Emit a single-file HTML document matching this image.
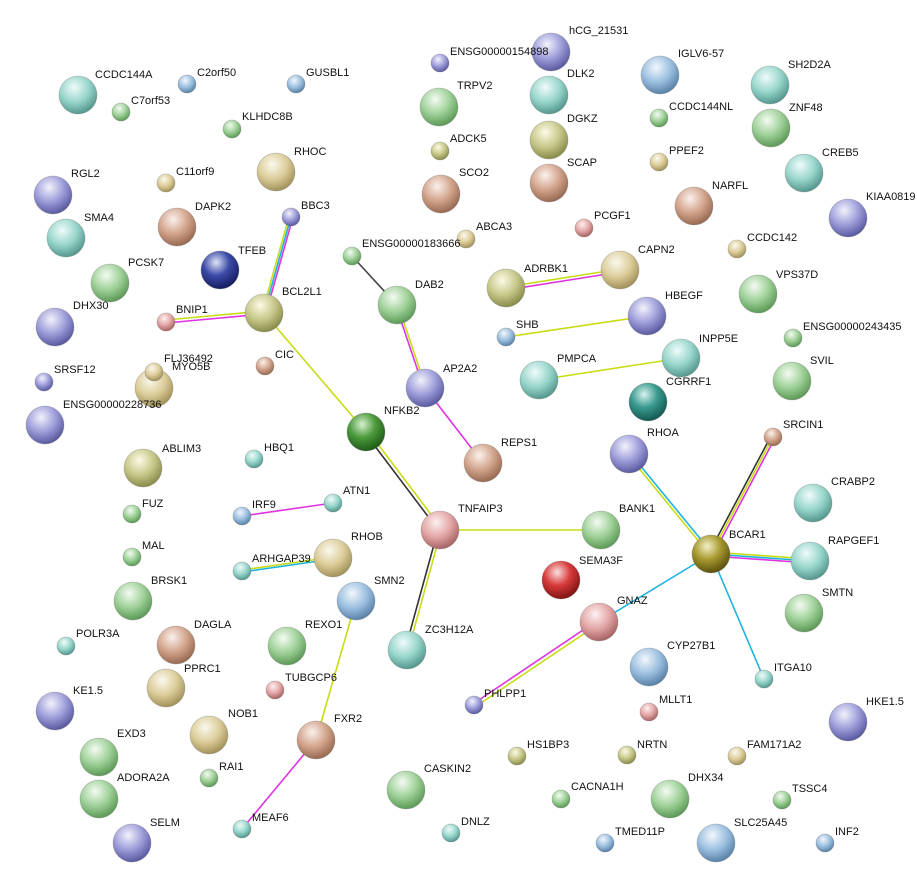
<!DOCTYPE html>
<html><head><meta charset="utf-8"><style>
html,body{margin:0;padding:0;background:#fff;}
svg{display:block;}
text{font-family:"Liberation Sans",Arial,sans-serif;font-size:11px;fill:#111;}
</style></head><body>
<svg width="917" height="889" viewBox="0 0 917 889" xmlns="http://www.w3.org/2000/svg">
<defs>
<radialGradient id="g" cx="40%" cy="30%" r="70%"><stop offset="0" stop-color="#f4fbf2"/><stop offset="0.55" stop-color="#9fd199"/><stop offset="1" stop-color="#5d9a57"/></radialGradient>
<radialGradient id="b" cx="40%" cy="30%" r="70%"><stop offset="0" stop-color="#f2f7fc"/><stop offset="0.55" stop-color="#9cc0e0"/><stop offset="1" stop-color="#5a82a8"/></radialGradient>
<radialGradient id="p" cx="40%" cy="30%" r="70%"><stop offset="0" stop-color="#f2f2fc"/><stop offset="0.55" stop-color="#9d9dda"/><stop offset="1" stop-color="#5a5aa0"/></radialGradient>
<radialGradient id="t" cx="40%" cy="30%" r="70%"><stop offset="0" stop-color="#fbf9ee"/><stop offset="0.55" stop-color="#dccd9a"/><stop offset="1" stop-color="#a3925a"/></radialGradient>
<radialGradient id="c" cx="40%" cy="30%" r="70%"><stop offset="0" stop-color="#f0fbf9"/><stop offset="0.55" stop-color="#98d6cc"/><stop offset="1" stop-color="#55988e"/></radialGradient>
<radialGradient id="r" cx="40%" cy="30%" r="70%"><stop offset="0" stop-color="#fbf1ec"/><stop offset="0.55" stop-color="#d2a48c"/><stop offset="1" stop-color="#986a52"/></radialGradient>
<radialGradient id="k" cx="40%" cy="30%" r="70%"><stop offset="0" stop-color="#fdf0f0"/><stop offset="0.55" stop-color="#e3a6a6"/><stop offset="1" stop-color="#a86464"/></radialGradient>
<radialGradient id="o" cx="40%" cy="30%" r="70%"><stop offset="0" stop-color="#fbfbe6"/><stop offset="0.55" stop-color="#c7c88a"/><stop offset="1" stop-color="#8a8c4a"/></radialGradient>
<radialGradient id="dg" cx="40%" cy="30%" r="70%"><stop offset="0" stop-color="#d8f0d0"/><stop offset="0.5" stop-color="#4c9a3c"/><stop offset="1" stop-color="#1f5c18"/></radialGradient>
<radialGradient id="db" cx="40%" cy="30%" r="70%"><stop offset="0" stop-color="#dfe4f8"/><stop offset="0.5" stop-color="#3c4aa8"/><stop offset="1" stop-color="#161e60"/></radialGradient>
<radialGradient id="dt" cx="40%" cy="30%" r="70%"><stop offset="0" stop-color="#d8f2ee"/><stop offset="0.5" stop-color="#3a9a90"/><stop offset="1" stop-color="#145a52"/></radialGradient>
<radialGradient id="rd" cx="40%" cy="30%" r="70%"><stop offset="0" stop-color="#fbdede"/><stop offset="0.5" stop-color="#d83a3a"/><stop offset="1" stop-color="#801414"/></radialGradient>
<radialGradient id="ol" cx="40%" cy="30%" r="70%"><stop offset="0" stop-color="#f4f0c8"/><stop offset="0.5" stop-color="#a89a30"/><stop offset="1" stop-color="#5c520e"/></radialGradient>
</defs>

<!-- edges -->
<g fill="none" stroke-width="1.6">
<!-- BBC3-BCL2L1 -->
<line x1="289" y1="217" x2="262" y2="313" stroke="#c8dc14"/>
<line x1="291" y1="217" x2="264" y2="313" stroke="#1eb4e0"/>
<line x1="293" y1="217" x2="266" y2="313" stroke="#e033e0"/>
<!-- BNIP1-BCL2L1 -->
<line x1="166" y1="320" x2="264" y2="311" stroke="#c8dc14"/>
<line x1="166" y1="323" x2="264" y2="314" stroke="#e033e0"/>
<line x1="264" y1="313" x2="366" y2="432" stroke="#c8dc14"/>
<!-- NFKB2-TNFAIP3 -->
<line x1="365" y1="433" x2="439" y2="531" stroke="#333"/>
<line x1="368" y1="431" x2="442" y2="529" stroke="#c8dc14"/>
<line x1="352" y1="256" x2="397" y2="305" stroke="#444"/>
<!-- DAB2-AP2A2 -->
<line x1="396" y1="306" x2="424" y2="389" stroke="#e033e0"/>
<line x1="398" y1="305" x2="426" y2="388" stroke="#c8dc14"/>
<line x1="425" y1="388" x2="483" y2="463" stroke="#e033e0"/>
<!-- ADRBK1-CAPN2 -->
<line x1="506" y1="287" x2="620" y2="269" stroke="#c8dc14"/>
<line x1="506" y1="290" x2="620" y2="272" stroke="#e033e0"/>
<line x1="506" y1="337" x2="647" y2="316" stroke="#c8dc14"/>
<line x1="539" y1="380" x2="681" y2="358" stroke="#c8dc14"/>
<line x1="440" y1="530" x2="601" y2="530" stroke="#c8dc14"/>
<!-- TNFAIP3-ZC3H12A -->
<line x1="438" y1="530" x2="405" y2="650" stroke="#333"/>
<line x1="441" y1="531" x2="408" y2="651" stroke="#c8dc14"/>
<!-- RHOA-BCAR1 -->
<line x1="628" y1="455" x2="710" y2="555" stroke="#c8dc14"/>
<line x1="630" y1="453" x2="712" y2="553" stroke="#1eb4e0"/>
<!-- SRCIN1-BCAR1 -->
<line x1="771" y1="436" x2="709" y2="553" stroke="#333"/>
<line x1="773" y1="437" x2="711" y2="554" stroke="#c8dc14"/>
<line x1="775" y1="438" x2="713" y2="555" stroke="#e033e0"/>
<!-- BCAR1-RAPGEF1 -->
<line x1="711" y1="552" x2="810" y2="559" stroke="#c8dc14"/>
<line x1="711" y1="554" x2="810" y2="561" stroke="#1eb4e0"/>
<line x1="711" y1="556" x2="810" y2="563" stroke="#e033e0"/>
<line x1="711" y1="554" x2="764" y2="679" stroke="#1eb4e0"/>
<line x1="711" y1="554" x2="599" y2="622" stroke="#1eb4e0"/>
<!-- GNAZ-PHLPP1 -->
<line x1="598" y1="620" x2="473" y2="704" stroke="#e033e0"/>
<line x1="600" y1="623" x2="475" y2="707" stroke="#c8dc14"/>
<line x1="242" y1="516" x2="333" y2="503" stroke="#e033e0"/>
<!-- ARHGAP39-RHOB -->
<line x1="242" y1="570" x2="333" y2="557" stroke="#c8dc14"/>
<line x1="242" y1="572" x2="333" y2="559" stroke="#1eb4e0"/>
<line x1="356" y1="601" x2="316" y2="740" stroke="#c8dc14"/>
<line x1="316" y1="740" x2="242" y2="829" stroke="#e033e0"/>
</g>

<!-- big nodes -->
<g stroke="#666" stroke-opacity="0.35" stroke-width="0.8">
<circle cx="78" cy="95" r="19" fill="url(#c)"/>
<circle cx="53" cy="195" r="19" fill="url(#p)"/>
<circle cx="66" cy="238" r="19" fill="url(#c)"/>
<circle cx="110" cy="283" r="19" fill="url(#g)"/>
<circle cx="55" cy="327" r="19" fill="url(#p)"/>
<circle cx="45" cy="425" r="19" fill="url(#p)"/>
<circle cx="154" cy="388" r="19" fill="url(#t)"/>
<circle cx="143" cy="468" r="19" fill="url(#o)"/>
<circle cx="133" cy="601" r="19" fill="url(#g)"/>
<circle cx="176" cy="645" r="19" fill="url(#r)"/>
<circle cx="166" cy="688" r="19" fill="url(#t)"/>
<circle cx="55" cy="711" r="19" fill="url(#p)"/>
<circle cx="99" cy="757" r="19" fill="url(#g)"/>
<circle cx="99" cy="799" r="19" fill="url(#g)"/>
<circle cx="132" cy="843" r="19" fill="url(#p)"/>
<circle cx="209" cy="735" r="19" fill="url(#t)"/>
<circle cx="276" cy="172" r="19" fill="url(#t)"/>
<circle cx="177" cy="227" r="19" fill="url(#r)"/>
<circle cx="220" cy="270" r="19" fill="url(#db)"/>
<circle cx="264" cy="313" r="19" fill="url(#o)"/>
<circle cx="366" cy="432" r="19" fill="url(#dg)"/>
<circle cx="333" cy="558" r="19" fill="url(#t)"/>
<circle cx="356" cy="601" r="19" fill="url(#b)"/>
<circle cx="287" cy="646" r="19" fill="url(#g)"/>
<circle cx="316" cy="740" r="19" fill="url(#r)"/>
<circle cx="407" cy="650" r="19" fill="url(#c)"/>
<circle cx="440" cy="530" r="19" fill="url(#k)"/>
<circle cx="406" cy="790" r="19" fill="url(#g)"/>
<circle cx="397" cy="305" r="19" fill="url(#g)"/>
<circle cx="425" cy="388" r="19" fill="url(#p)"/>
<circle cx="483" cy="463" r="19" fill="url(#r)"/>
<circle cx="439" cy="107" r="19" fill="url(#g)"/>
<circle cx="441" cy="194" r="19" fill="url(#r)"/>
<circle cx="551" cy="52" r="19" fill="url(#p)"/>
<circle cx="549" cy="95" r="19" fill="url(#c)"/>
<circle cx="549" cy="140" r="19" fill="url(#o)"/>
<circle cx="549" cy="183" r="19" fill="url(#r)"/>
<circle cx="506" cy="288" r="19" fill="url(#o)"/>
<circle cx="620" cy="270" r="19" fill="url(#t)"/>
<circle cx="647" cy="316" r="19" fill="url(#p)"/>
<circle cx="539" cy="380" r="19" fill="url(#c)"/>
<circle cx="681" cy="358" r="19" fill="url(#c)"/>
<circle cx="648" cy="402" r="19" fill="url(#dt)"/>
<circle cx="601" cy="530" r="19" fill="url(#g)"/>
<circle cx="561" cy="580" r="19" fill="url(#rd)"/>
<circle cx="599" cy="622" r="19" fill="url(#k)"/>
<circle cx="629" cy="454" r="19" fill="url(#p)"/>
<circle cx="711" cy="554" r="19" fill="url(#ol)"/>
<circle cx="810" cy="561" r="19" fill="url(#c)"/>
<circle cx="804" cy="613" r="19" fill="url(#g)"/>
<circle cx="813" cy="503" r="19" fill="url(#c)"/>
<circle cx="649" cy="667" r="19" fill="url(#b)"/>
<circle cx="670" cy="799" r="19" fill="url(#g)"/>
<circle cx="716" cy="843" r="19" fill="url(#b)"/>
<circle cx="848" cy="722" r="19" fill="url(#p)"/>
<circle cx="660" cy="75" r="19" fill="url(#b)"/>
<circle cx="770" cy="85" r="19" fill="url(#c)"/>
<circle cx="771" cy="128" r="19" fill="url(#g)"/>
<circle cx="804" cy="173" r="19" fill="url(#c)"/>
<circle cx="848" cy="218" r="19" fill="url(#p)"/>
<circle cx="694" cy="206" r="19" fill="url(#r)"/>
<circle cx="758" cy="294" r="19" fill="url(#g)"/>
<circle cx="792" cy="381" r="19" fill="url(#g)"/>
</g>

<!-- small nodes -->
<g stroke="#666" stroke-opacity="0.35" stroke-width="0.8">
<circle cx="187" cy="84" r="9" fill="url(#b)"/>
<circle cx="296" cy="84" r="9" fill="url(#b)"/>
<circle cx="121" cy="112" r="9" fill="url(#g)"/>
<circle cx="232" cy="129" r="9" fill="url(#g)"/>
<circle cx="166" cy="183" r="9" fill="url(#t)"/>
<circle cx="291" cy="217" r="9" fill="url(#p)"/>
<circle cx="166" cy="322" r="9" fill="url(#k)"/>
<circle cx="154" cy="372" r="9" fill="url(#t)"/>
<circle cx="44" cy="382" r="9" fill="url(#p)"/>
<circle cx="265" cy="366" r="9" fill="url(#r)"/>
<circle cx="254" cy="459" r="9" fill="url(#c)"/>
<circle cx="132" cy="514" r="9" fill="url(#g)"/>
<circle cx="242" cy="516" r="9" fill="url(#b)"/>
<circle cx="333" cy="503" r="9" fill="url(#c)"/>
<circle cx="132" cy="557" r="9" fill="url(#g)"/>
<circle cx="242" cy="571" r="9" fill="url(#c)"/>
<circle cx="66" cy="646" r="9" fill="url(#c)"/>
<circle cx="275" cy="690" r="9" fill="url(#k)"/>
<circle cx="209" cy="778" r="9" fill="url(#g)"/>
<circle cx="242" cy="829" r="9" fill="url(#c)"/>
<circle cx="352" cy="256" r="9" fill="url(#g)"/>
<circle cx="440" cy="63" r="9" fill="url(#p)"/>
<circle cx="440" cy="151" r="9" fill="url(#o)"/>
<circle cx="466" cy="239" r="9" fill="url(#t)"/>
<circle cx="584" cy="228" r="9" fill="url(#k)"/>
<circle cx="659" cy="118" r="9" fill="url(#g)"/>
<circle cx="659" cy="162" r="9" fill="url(#t)"/>
<circle cx="737" cy="249" r="9" fill="url(#t)"/>
<circle cx="506" cy="337" r="9" fill="url(#b)"/>
<circle cx="793" cy="338" r="9" fill="url(#g)"/>
<circle cx="773" cy="437" r="9" fill="url(#r)"/>
<circle cx="764" cy="679" r="9" fill="url(#c)"/>
<circle cx="474" cy="705" r="9" fill="url(#p)"/>
<circle cx="649" cy="712" r="9" fill="url(#k)"/>
<circle cx="517" cy="756" r="9" fill="url(#o)"/>
<circle cx="627" cy="755" r="9" fill="url(#o)"/>
<circle cx="737" cy="756" r="9" fill="url(#t)"/>
<circle cx="782" cy="800" r="9" fill="url(#g)"/>
<circle cx="561" cy="799" r="9" fill="url(#g)"/>
<circle cx="451" cy="833" r="9" fill="url(#c)"/>
<circle cx="605" cy="843" r="9" fill="url(#b)"/>
<circle cx="825" cy="843" r="9" fill="url(#b)"/>
</g>

<!-- labels -->
<g>
<text x="95" y="78">CCDC144A</text>
<text x="71" y="177">RGL2</text>
<text x="84" y="221">SMA4</text>
<text x="128" y="266">PCSK7</text>
<text x="73" y="309">DHX30</text>
<text x="63" y="408">ENSG00000228736</text>
<text x="172" y="370">MYO5B</text>
<text x="162" y="452">ABLIM3</text>
<text x="151" y="584">BRSK1</text>
<text x="194" y="628">DAGLA</text>
<text x="184" y="672">PPRC1</text>
<text x="73" y="694">KE1.5</text>
<text x="117" y="737">EXD3</text>
<text x="117" y="781">ADORA2A</text>
<text x="150" y="826">SELM</text>
<text x="228" y="717">NOB1</text>
<text x="294" y="155">RHOC</text>
<text x="195" y="210">DAPK2</text>
<text x="238" y="254">TFEB</text>
<text x="282" y="295">BCL2L1</text>
<text x="384" y="414">NFKB2</text>
<text x="351" y="540">RHOB</text>
<text x="374" y="584">SMN2</text>
<text x="305" y="628">REXO1</text>
<text x="334" y="722">FXR2</text>
<text x="425" y="633">ZC3H12A</text>
<text x="458" y="512">TNFAIP3</text>
<text x="424" y="772">CASKIN2</text>
<text x="415" y="288">DAB2</text>
<text x="443" y="372">AP2A2</text>
<text x="501" y="446">REPS1</text>
<text x="457" y="89">TRPV2</text>
<text x="459" y="176">SCO2</text>
<text x="569" y="34">hCG_21531</text>
<text x="567" y="77">DLK2</text>
<text x="567" y="122">DGKZ</text>
<text x="567" y="166">SCAP</text>
<text x="524" y="272">ADRBK1</text>
<text x="638" y="253">CAPN2</text>
<text x="665" y="299">HBEGF</text>
<text x="557" y="362">PMPCA</text>
<text x="699" y="342">INPP5E</text>
<text x="666" y="385">CGRRF1</text>
<text x="619" y="512">BANK1</text>
<text x="579" y="564">SEMA3F</text>
<text x="617" y="604">GNAZ</text>
<text x="647" y="436">RHOA</text>
<text x="729" y="538">BCAR1</text>
<text x="828" y="544">RAPGEF1</text>
<text x="822" y="596">SMTN</text>
<text x="831" y="485">CRABP2</text>
<text x="667" y="649">CYP27B1</text>
<text x="688" y="781">DHX34</text>
<text x="734" y="826">SLC25A45</text>
<text x="866" y="705">HKE1.5</text>
<text x="678" y="57">IGLV6-57</text>
<text x="788" y="68">SH2D2A</text>
<text x="789" y="111">ZNF48</text>
<text x="822" y="156">CREB5</text>
<text x="866" y="200">KIAA0819</text>
<text x="712" y="189">NARFL</text>
<text x="776" y="278">VPS37D</text>
<text x="810" y="364">SVIL</text>
<text x="197" y="76">C2orf50</text>
<text x="306" y="76">GUSBL1</text>
<text x="131" y="104">C7orf53</text>
<text x="242" y="120">KLHDC8B</text>
<text x="176" y="175">C11orf9</text>
<text x="301" y="209">BBC3</text>
<text x="176" y="313">BNIP1</text>
<text x="164" y="362">FLJ36492</text>
<text x="54" y="373">SRSF12</text>
<text x="275" y="358">CIC</text>
<text x="264" y="451">HBQ1</text>
<text x="142" y="507">FUZ</text>
<text x="252" y="508">IRF9</text>
<text x="343" y="494">ATN1</text>
<text x="142" y="549">MAL</text>
<text x="252" y="562">ARHGAP39</text>
<text x="76" y="637">POLR3A</text>
<text x="285" y="681">TUBGCP6</text>
<text x="219" y="770">RAI1</text>
<text x="252" y="821">MEAF6</text>
<text x="362" y="247">ENSG00000183666</text>
<text x="450" y="55">ENSG00000154898</text>
<text x="450" y="142">ADCK5</text>
<text x="476" y="230">ABCA3</text>
<text x="594" y="219">PCGF1</text>
<text x="669" y="110">CCDC144NL</text>
<text x="669" y="154">PPEF2</text>
<text x="747" y="241">CCDC142</text>
<text x="516" y="328">SHB</text>
<text x="803" y="330">ENSG00000243435</text>
<text x="783" y="428">SRCIN1</text>
<text x="774" y="671">ITGA10</text>
<text x="484" y="697">PHLPP1</text>
<text x="659" y="703">MLLT1</text>
<text x="527" y="748">HS1BP3</text>
<text x="637" y="748">NRTN</text>
<text x="747" y="748">FAM171A2</text>
<text x="792" y="792">TSSC4</text>
<text x="571" y="790">CACNA1H</text>
<text x="461" y="825">DNLZ</text>
<text x="615" y="835">TMED11P</text>
<text x="835" y="835">INF2</text>
</g>
</svg>
</body></html>
